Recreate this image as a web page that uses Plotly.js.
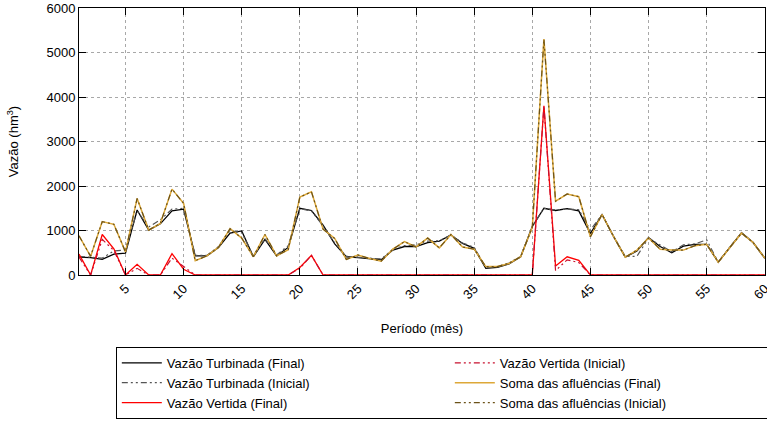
<!DOCTYPE html>
<html>
<head>
<meta charset="utf-8">
<script src="https://cdn.plot.ly/plotly-3.0.1.min.js"></script>
<style>html,body{margin:0;padding:0;background:#fff;}#chart{width:767px;height:424px;}</style>
</head>
<body>
<div id="chart"></div>
<script>
const periods = Array.from({length: 60}, (_, k) => k + 1);

const turbFinal = [400,390,350,470,490,1460,1010,1150,1440,1480,
  430,430,620,940,990,410,800,430,620,1500,
  1450,1120,700,410,390,370,340,560,640,640,
  730,760,900,710,600,150,170,250,410,1090,
  1500,1450,1490,1440,930,1360,860,400,540,840,
  640,500,650,690,690,290,620,950,730,380];

const turbInicial = [420,400,380,540,560,1440,1080,1240,1480,1500,
  440,440,640,1000,950,430,820,450,660,1490,
  1440,1100,720,420,400,380,360,580,660,680,
  760,770,900,720,620,170,190,270,420,1090,
  1500,1460,1480,1470,1010,1360,870,420,420,830,
  680,520,680,700,790,290,630,940,730,370];

const vertFinal = [470,0,910,590,0,240,0,0,480,130,
  0,0,0,0,0,0,0,0,0,170,
  440,0,0,0,0,0,0,0,0,0,
  0,0,0,0,0,0,0,0,0,0,
  3800,200,410,330,0,0,0,0,0,0,
  0,0,0,0,0,0,0,0,0,0];

const vertInicial = [400,0,800,550,0,150,0,0,380,200,
  0,0,0,0,0,0,0,0,0,150,
  440,0,0,0,0,0,0,0,0,0,
  0,0,0,0,0,0,0,0,0,0,
  3800,100,340,280,0,0,0,0,0,0,
  0,0,0,0,0,0,0,0,0,0];

const somaFinal = [880,420,1200,1140,520,1720,1010,1160,1930,1610,
  320,430,620,1040,830,410,910,430,570,1750,
  1870,1030,820,350,450,370,310,580,750,630,
  830,610,910,630,580,190,190,260,410,1070,
  5300,1660,1820,1760,860,1360,860,400,560,830,
  580,560,560,660,690,290,620,940,730,380];

const somaInicial = [880,420,1200,1140,520,1720,1010,1160,1930,1610,
  320,430,620,1040,830,410,910,430,570,1750,
  1870,1030,820,350,450,370,310,580,750,630,
  830,610,910,630,580,190,190,260,410,1070,
  5300,1660,1820,1760,860,1360,860,400,560,830,
  580,560,560,660,690,290,620,940,730,380];

const xTicks = [5,10,15,20,25,30,35,40,45,50,55,60];
const yTicks = [0,1000,2000,3000,4000,5000,6000];

const seriesNames = ["Vazão Turbinada (Final)","Vazão Turbinada (Inicial)","Vazão Vertida (Final)",
  "Vazão Vertida (Inicial)","Soma das afluências (Final)","Soma das afluências (Inicial)"];

const dd = "6px,3px,2px,3px,2px,3px";
const traces = [
  {y: turbFinal, name: seriesNames[0], line: {color: "#000000", width: 1.3}, legendrank: 1},
  {y: turbInicial, name: seriesNames[1], line: {color: "#555555", width: 1.2, dash: dd}, legendrank: 3},
  {y: vertFinal, name: seriesNames[2], line: {color: "#ff0000", width: 1.3}, legendrank: 5},
  {y: vertInicial, name: seriesNames[3], line: {color: "#c8102e", width: 1.2, dash: dd}, legendrank: 2},
  {y: somaFinal, name: seriesNames[4], line: {color: "#dda838", width: 1.5}, legendrank: 4},
  {y: somaInicial, name: seriesNames[5], line: {color: "#6b5218", width: 1.2, dash: dd}, legendrank: 6}
].map(t => Object.assign({x: periods, type: "scatter", mode: "lines"}, t));

const font = {family: "Liberation Sans, Arial, sans-serif", size: 13, color: "#000"};
const layout = {
  width: 767, height: 424,
  margin: {l: 79, r: 2, t: 8, b: 149, autoexpand: false},
  paper_bgcolor: "#fff", plot_bgcolor: "#fff",
  font: font,
  showlegend: true,
  xaxis: {
    range: [1, 60.02], tickvals: xTicks, tickangle: -45, ticklabeloverflow: "allow",
    ticks: "inside", ticklen: 7, tickcolor: "#000", mirror: "ticks",
    showline: true, linecolor: "#000", linewidth: 1,
    showgrid: true, gridcolor: "#a8a8a8", griddash: "dot", gridwidth: 1,
    zeroline: false, automargin: false,
    title: {text: "Período (mês)", font: font, standoff: 22}
  },
  yaxis: {
    range: [0, 6000], tickvals: yTicks,
    ticks: "inside", ticklen: 7, tickcolor: "#000", mirror: "ticks",
    showline: true, linecolor: "#000", linewidth: 1,
    showgrid: true, gridcolor: "#a8a8a8", griddash: "dot", gridwidth: 1,
    zeroline: false, automargin: false,
    title: {text: "Vazão (hm<sup>3</sup>)", font: font, standoff: 24}
  },
  legend: {
    orientation: "h", xref: "container", yref: "container",
    x: 0.151, y: 0.182, xanchor: "left", yanchor: "top",
    bordercolor: "#000", borderwidth: 1, bgcolor: "#fff",
    entrywidth: 278, entrywidthmode: "pixels", traceorder: "normal",
    font: font, itemwidth: 40, tracegroupgap: 0
  }
};

Plotly.newPlot("chart", traces, layout, {displayModeBar: false, staticPlot: true});
</script>
</body>
</html>
